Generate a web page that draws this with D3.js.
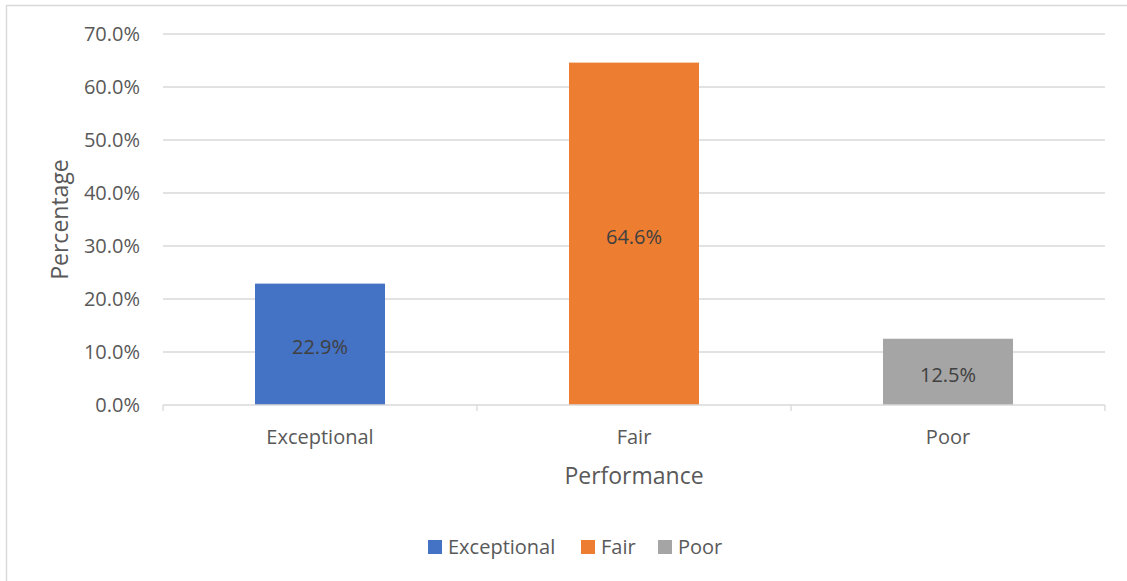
<!DOCTYPE html>
<html>
<head>
<meta charset="utf-8">
<script src="https://cdn.jsdelivr.net/npm/d3@7"></script>
<style>
  body { margin: 0; background: #fff; }
  text { font-family: "Open Sans", "Noto Sans", sans-serif; fill: #595959; }
</style>
</head>
<body>
<div id="chart"></div>
<script>
const categories = ["Exceptional", "Fair", "Poor"];
const values = [22.9, 64.6, 12.5];
const colors = ["#4472c4", "#ed7d31", "#a5a5a5"];
const yTicks = [0, 10, 20, 30, 40, 50, 60, 70];

const width = 1127, height = 581;
const margin = { top: 34, right: 22, bottom: 176, left: 163 };

const svg = d3.select("#chart").append("svg").attr("width", width).attr("height", height);

// chart frame (only top & left visible in the crop)
svg.append("rect").attr("x", 6.5).attr("y", 5.5).attr("width", 1200).attr("height", 700)
    .attr("fill", "none").attr("stroke", "#d9d9d9").attr("stroke-width", 1.5);

const x = d3.scaleBand().domain(categories).range([margin.left, width - margin.right]).paddingInner(0.586).paddingOuter(0.293);
const xOuter = d3.scaleBand().domain(categories).range([margin.left, width - margin.right]);
const y = d3.scaleLinear().domain([0, 70]).range([height - margin.bottom, margin.top]);

// gridlines
svg.append("g").selectAll("line").data(yTicks.slice(1)).join("line")
    .attr("x1", margin.left).attr("x2", width - margin.right)
    .attr("y1", d => y(d)).attr("y2", d => y(d))
    .attr("stroke", "#d9d9d9").attr("stroke-width", 1.3);

// y tick labels
svg.append("g").selectAll("text").data(yTicks).join("text")
    .attr("x", margin.left - 23).attr("y", d => y(d)).attr("dy", "0.35em")
    .attr("text-anchor", "end").style("font-size", "20px")
    .text(d => d.toFixed(1) + "%");

// bars
svg.append("g").selectAll("rect").data(values).join("rect")
    .attr("x", (d, i) => x(categories[i])).attr("width", x.bandwidth())
    .attr("y", d => y(d)).attr("height", d => y(0) - y(d))
    .attr("fill", (d, i) => colors[i]);

// bar labels
svg.append("g").selectAll("text").data(values).join("text")
    .attr("x", (d, i) => x(categories[i]) + x.bandwidth() / 2)
    .attr("y", d => (y(d) + y(0)) / 2 + 3).attr("dy", "0.35em")
    .attr("text-anchor", "middle").style("font-size", "20px").style("fill", "#404040")
    .text(d => d.toFixed(1) + "%");

// x axis line and ticks
const base = y(0);
svg.append("line").attr("x1", margin.left).attr("x2", width - margin.right)
    .attr("y1", base).attr("y2", base).attr("stroke", "#d9d9d9").attr("stroke-width", 1.3);
const tickXs = categories.map(c => xOuter(c)).concat([width - margin.right]);
svg.append("g").selectAll("line").data(tickXs).join("line")
    .attr("x1", d => d).attr("x2", d => d).attr("y1", base).attr("y2", base + 6)
    .attr("stroke", "#d9d9d9").attr("stroke-width", 1.3);

// x tick labels
svg.append("g").selectAll("text").data(categories).join("text")
    .attr("x", d => x(d) + x.bandwidth() / 2).attr("y", base + 39)
    .attr("text-anchor", "middle").style("font-size", "20px")
    .text(d => d);

// axis titles
svg.append("text").attr("x", (margin.left + width - margin.right) / 2).attr("y", base + 79)
    .attr("text-anchor", "middle").style("font-size", "23px").text("Performance");
svg.append("text").attr("transform", `translate(68, ${(margin.top + base) / 2}) rotate(-90)`)
    .attr("text-anchor", "middle").style("font-size", "23px").text("Percentage");

// legend
const legendItems = [
    { label: categories[0], x: 428 },
    { label: categories[1], x: 581 },
    { label: categories[2], x: 658 }
];
const lg = svg.append("g").selectAll("g").data(legendItems).join("g")
    .attr("transform", d => `translate(${d.x}, 540)`);
lg.append("rect").attr("width", 14).attr("height", 14).attr("fill", (d, i) => colors[i]);
lg.append("text").attr("x", 20).attr("y", 7).attr("dy", "0.35em")
    .style("font-size", "20px").text(d => d.label);
</script>
</body>
</html>
